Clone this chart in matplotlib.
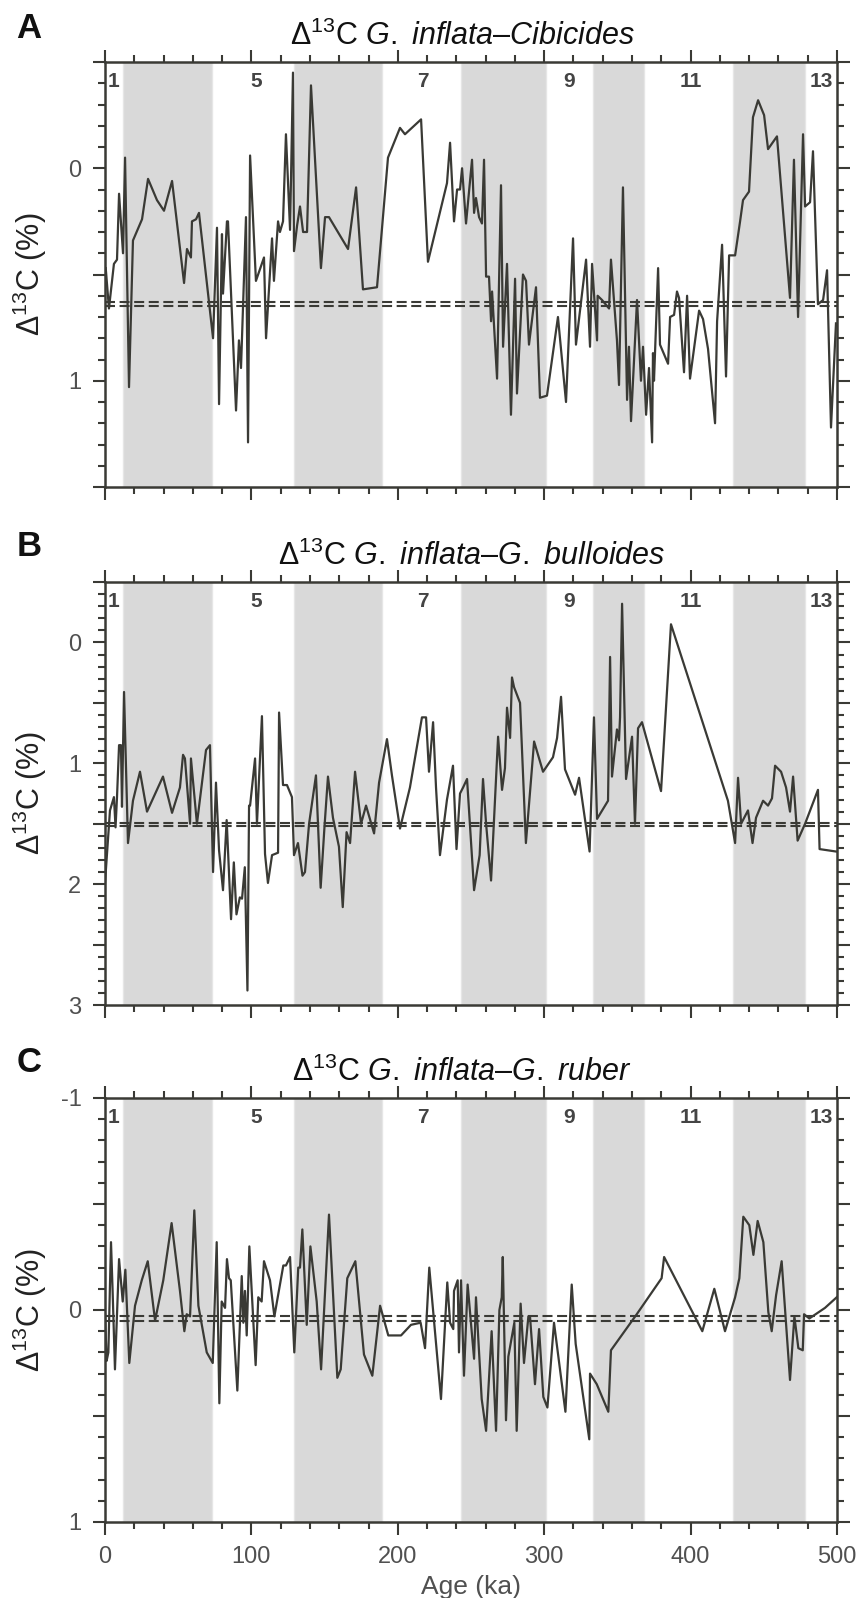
import matplotlib
matplotlib.use('Agg')
import matplotlib.pyplot as plt
from matplotlib.ticker import MultipleLocator, FuncFormatter

plt.rcParams['font.family'] = ['Liberation Sans', 'DejaVu Sans']
plt.rcParams['mathtext.fontset'] = 'custom'
plt.rcParams['mathtext.rm'] = 'Liberation Sans'
plt.rcParams['mathtext.it'] = 'Liberation Sans:italic'
plt.rcParams['mathtext.bf'] = 'Liberation Sans:bold'
plt.rcParams['axes.unicode_minus'] = False

# --- data (age in ka, Delta13C in per mil) ---
age_a = [0.5, 2.7, 6.1, 8.2, 9.6, 12.3, 13.7, 16.4, 19.1, 25.3,
         29.4, 35.5, 40.3, 45.8, 54.0, 56.0, 58.7, 59.4, 62.2, 64.2,
         73.8, 76.5, 77.9, 79.9, 80.6, 83.3, 84.0, 89.5, 91.5, 92.9,
         96.3, 97.7, 99.1, 103.1, 108.6, 110.0, 114.1, 115.4, 118.2, 119.5,
         121.6, 123.6, 126.4, 128.4, 129.1, 131.2, 133.2, 135.3, 138.0, 140.7,
         147.5, 150.3, 153.0, 166.0, 171.5, 176.2, 185.8, 193.3, 201.5, 204.9,
         215.9, 220.6, 233.6, 235.7, 238.4, 240.5, 242.5, 243.9, 246.6, 250.7,
         252.1, 253.4, 255.5, 257.5, 258.9, 260.3, 262.3, 263.7, 264.4, 267.8,
         270.5, 271.9, 274.6, 277.3, 280.1, 281.4, 285.5, 287.6, 289.6, 294.4,
         297.1, 301.9, 309.4, 314.9, 319.7, 321.7, 328.6, 331.3, 332.7, 336.1,
         336.5, 339.5, 344.3, 345.6, 349.7, 351.1, 353.8, 356.6, 357.9, 359.3,
         363.4, 366.1, 367.5, 369.6, 371.6, 373.7, 374.3, 375.0, 377.8, 379.1,
         384.6, 386.0, 388.7, 390.7, 392.1, 395.5, 397.6, 399.6, 405.8, 408.5,
         411.9, 416.7, 418.1, 421.5, 424.2, 426.3, 430.4, 433.8, 435.8, 439.9,
         442.6, 446.1, 450.2, 452.9, 459.0, 467.9, 470.6, 473.4, 476.8, 478.2,
         481.6, 483.6, 487.0, 490.5, 493.2, 495.9, 499.3]
d13c_a = [0.47, 0.66, 0.45, 0.43, 0.12, 0.40, -0.05, 1.03, 0.34, 0.24,
          0.05, 0.15, 0.20, 0.06, 0.54, 0.38, 0.42, 0.25, 0.24, 0.21,
          0.80, 0.28, 1.11, 0.31, 0.59, 0.25, 0.25, 1.14, 0.81, 0.94,
          0.23, 1.29, -0.06, 0.53, 0.42, 0.80, 0.33, 0.53, 0.25, 0.30,
          0.25, -0.16, 0.29, -0.45, 0.39, 0.27, 0.18, 0.30, 0.30, -0.39,
          0.47, 0.23, 0.23, 0.38, 0.09, 0.57, 0.56, -0.05, -0.19, -0.16,
          -0.23, 0.44, 0.07, -0.12, 0.25, 0.10, 0.10, 0.00, 0.26, -0.04,
          0.21, 0.14, 0.23, 0.26, -0.04, 0.51, 0.51, 0.72, 0.58, 0.99,
          0.08, 0.84, 0.45, 1.16, 0.52, 1.06, 0.50, 0.53, 0.83, 0.56,
          1.08, 1.07, 0.70, 1.10, 0.33, 0.83, 0.43, 0.84, 0.45, 0.81,
          0.60, 0.62, 0.66, 0.43, 0.81, 1.02, 0.09, 1.09, 0.84, 1.19,
          0.62, 1.00, 0.84, 1.16, 0.94, 1.29, 0.87, 1.00, 0.47, 0.83,
          0.92, 0.70, 0.69, 0.58, 0.61, 0.96, 0.60, 0.99, 0.67, 0.71,
          0.85, 1.20, 0.72, 0.36, 0.98, 0.41, 0.41, 0.25, 0.15, 0.11,
          -0.24, -0.32, -0.25, -0.09, -0.15, 0.61, -0.04, 0.70, -0.16, 0.18,
          0.16, -0.08, 0.64, 0.62, 0.48, 1.22, 0.73]

age_b = [0.0, 3.4, 6.1, 7.2, 8.2, 9.6, 10.9, 11.6, 13.0, 15.7,
         19.1, 23.9, 28.7, 39.6, 45.8, 51.2, 53.3, 54.6, 58.1, 58.7,
         62.8, 69.0, 71.7, 73.8, 75.8, 77.9, 80.6, 83.1, 86.1, 88.0,
         89.8, 92.1, 93.6, 95.5, 97.3, 98.4, 99.1, 102.5, 103.8, 107.2,
         109.3, 111.3, 114.1, 118.2, 118.9, 121.6, 124.3, 127.7, 129.1, 131.8,
         134.9, 136.6, 139.4, 144.1, 147.3, 149.9, 152.3, 155.7, 159.8, 162.4,
         165.0, 167.4, 170.8, 174.9, 178.3, 183.8, 187.2, 192.6, 196.0, 201.5,
         208.3, 216.5, 219.3, 221.3, 224.1, 226.1, 228.8, 233.6, 237.7, 240.1,
         242.5, 244.6, 247.3, 252.1, 255.9, 258.2, 260.3, 263.7, 268.5, 271.2,
         273.2, 274.6, 276.7, 278.0, 279.4, 283.5, 287.5, 293.1, 299.2, 306.0,
         308.8, 311.5, 314.2, 321.1, 323.8, 331.0, 334.0, 336.1, 343.6, 345.0,
         346.3, 349.7, 351.1, 351.8, 353.2, 355.9, 360.0, 362.0, 364.1, 366.8,
         379.8, 386.6, 425.5, 430.4, 432.4, 434.5, 439.2, 442.3, 444.7, 449.5,
         452.9, 455.6, 457.7, 461.8, 465.2, 467.9, 470.0, 473.1, 478.2, 487.0,
         488.1, 499.3]
d13c_b = [1.99, 1.39, 1.28, 1.53, 1.28, 0.85, 0.85, 1.36, 0.41, 1.66,
          1.31, 1.07, 1.40, 1.11, 1.41, 1.20, 0.93, 0.96, 1.50, 0.96,
          1.50, 0.89, 0.85, 1.90, 1.16, 1.72, 2.05, 1.47, 2.29, 1.82,
          2.25, 2.11, 2.12, 1.86, 2.88, 1.35, 1.35, 0.96, 1.50, 0.61,
          1.75, 1.99, 1.76, 1.74, 0.58, 1.18, 1.18, 1.28, 1.76, 1.66,
          1.93, 1.90, 1.50, 1.10, 2.03, 1.53, 1.11, 1.45, 1.69, 2.19,
          1.57, 1.66, 1.07, 1.50, 1.35, 1.58, 1.16, 0.80, 1.10, 1.54,
          1.20, 0.62, 0.62, 1.07, 0.66, 1.20, 1.76, 1.30, 1.02, 1.71,
          1.25, 1.20, 1.13, 2.05, 1.76, 1.13, 1.50, 1.97, 0.78, 1.22,
          1.04, 0.54, 0.79, 0.29, 0.37, 0.50, 1.66, 0.82, 1.07, 0.95,
          0.79, 0.45, 1.05, 1.26, 1.12, 1.73, 0.62, 1.46, 1.31, 0.12,
          1.11, 0.72, 0.81, 0.62, -0.32, 1.13, 0.78, 1.50, 0.71, 0.66,
          1.23, -0.15, 1.31, 1.66, 1.12, 1.50, 1.39, 1.66, 1.45, 1.31,
          1.35, 1.29, 1.02, 1.07, 1.20, 1.40, 1.11, 1.64, 1.50, 1.22,
          1.71, 1.73]

age_c = [0.0, 1.1, 2.3, 4.1, 5.2, 6.8, 9.6, 12.1, 13.9, 16.6,
         20.5, 25.1, 29.2, 34.2, 39.8, 45.5, 51.2, 54.2, 55.8, 58.1,
         61.0, 63.8, 69.5, 73.6, 76.3, 78.1, 79.7, 82.0, 83.3, 84.7,
         85.9, 90.4, 93.4, 94.5, 95.6, 96.8, 98.6, 102.9, 104.7, 107.0,
         108.6, 112.7, 115.7, 121.8, 123.6, 126.4, 129.3, 132.0, 133.2, 134.8,
         137.8, 140.3, 144.6, 147.6, 153.0, 158.7, 161.0, 165.5, 171.0, 176.9,
         182.6, 187.9, 193.5, 202.2, 209.0, 215.6, 218.6, 221.5, 229.5, 233.8,
         235.7, 237.9, 238.4, 240.9, 241.8, 243.2, 245.2, 247.7, 252.1, 253.4,
         257.3, 260.3, 264.1, 267.1, 269.4, 271.0, 271.7, 273.9, 275.5, 279.6,
         281.2, 283.9, 286.2, 289.2, 290.3, 293.7, 296.5, 299.4, 302.2, 306.7,
         314.5, 318.8, 321.5, 325.6, 330.8, 331.3, 335.9, 343.8, 345.6, 363.2,
         380.2, 381.9, 408.0, 416.2, 423.5, 430.4, 433.3, 436.0, 440.1, 442.9,
         445.8, 449.7, 453.1, 455.4, 458.4, 462.2, 467.9, 470.9, 473.6, 476.6,
         477.5, 481.1, 491.8, 499.8]
d13c_c = [0.02, 0.24, 0.20, -0.32, -0.09, 0.28, -0.24, -0.04, -0.19, 0.25,
          -0.02, -0.14, -0.23, 0.05, -0.14, -0.41, -0.09, 0.10, 0.02, 0.03,
          -0.47, -0.02, 0.20, 0.25, -0.32, 0.44, -0.04, -0.01, -0.24, -0.15,
          -0.14, 0.38, -0.16, 0.06, -0.09, 0.12, -0.30, 0.26, -0.06, -0.04,
          -0.23, -0.14, 0.03, -0.21, -0.21, -0.25, 0.20, -0.20, -0.20, -0.38,
          0.07, -0.30, -0.04, 0.28, -0.45, 0.32, 0.28, -0.15, -0.23, 0.21,
          0.31, -0.02, 0.12, 0.12, 0.07, 0.06, 0.18, -0.20, 0.42, -0.13,
          0.06, 0.09, -0.09, -0.14, 0.20, -0.14, 0.31, -0.12, 0.23, -0.06,
          0.42, 0.57, 0.10, 0.57, 0.00, -0.06, -0.25, 0.52, 0.22, 0.06,
          0.57, -0.03, 0.25, 0.03, 0.03, 0.35, 0.09, 0.41, 0.46, 0.06,
          0.48, -0.12, 0.16, 0.36, 0.61, 0.30, 0.35, 0.48, 0.19, 0.02,
          -0.15, -0.25, 0.10, -0.10, 0.10, -0.06, -0.15, -0.44, -0.40, -0.26,
          -0.42, -0.32, 0.01, 0.10, -0.07, -0.23, 0.33, 0.03, 0.18, 0.19,
          0.02, 0.04, -0.01, -0.06]

# mean levels (two dashed lines per panel)
mean_a = [0.63, 0.65]
mean_b = [1.49, 1.52]
mean_c = [0.03, 0.05]

# glacial stages (shaded) and MIS labels
glacial_start = [12, 129, 243, 333, 429]
glacial_end = [73, 189, 301, 368, 478]
mis_labels = ['1', '5', '7', '9', '11', '13']
mis_ages = [5.5, 103, 217, 317, 400, 489]

titles = [r'Δ$^{13}$C $\mathit{G.\ inflata}$–$\mathit{Cibicides}$',
          r'Δ$^{13}$C $\mathit{G.\ inflata}$–$\mathit{G.\ bulloides}$',
          r'Δ$^{13}$C $\mathit{G.\ inflata}$–$\mathit{G.\ ruber}$']
title_x = [0.488, 0.501, 0.487]
letters = ['A', 'B', 'C']

ink = '#3a3a35'
grey_txt = '#505050'
band = '#d9d9d9'

W, H = 862, 1598
fig = plt.figure(figsize=(W / 100, H / 100), dpi=100)

# panel boxes in pixels: top, bottom
boxes = [(62, 487), (582, 1005), (1098, 1522)]
ylims = [(1.5, -0.5), (3.0, -0.5), (1.0, -1.0)]
series = [(age_a, d13c_a, mean_a), (age_b, d13c_b, mean_b), (age_c, d13c_c, mean_c)]
letter_y = [28, 546, 1062]


def int_only(v, pos):
    if abs(v - round(v)) < 1e-6:
        return str(int(round(v)))
    return ''


for i in range(3):
    top, bot = boxes[i]
    ax = fig.add_axes([105 / W, 1 - bot / H, 732 / W, (bot - top) / H])
    ages, vals, means = series[i]

    for s, e in zip(glacial_start, glacial_end):
        ax.axvspan(s, e, facecolor=band, edgecolor='#e6e6e6', lw=1.0, zorder=0)

    for m in means:
        ax.axhline(m, color=ink, lw=1.5, ls=(0, (4.8, 2.2)), zorder=2)
    ax.plot(ages, vals, color=ink, lw=1.6, zorder=3)

    for lab, a in zip(mis_labels, mis_ages):
        ax.text(a, 0.953, lab, transform=ax.get_xaxis_transform(), ha='center',
                va='center', fontsize=15, fontweight='bold', color='#444444', zorder=4)

    ax.set_xlim(0, 500)
    ax.set_ylim(*ylims[i])
    ax.xaxis.set_major_locator(MultipleLocator(100))
    ax.xaxis.set_minor_locator(MultipleLocator(20))
    ax.yaxis.set_major_locator(MultipleLocator(0.5))
    ax.yaxis.set_minor_locator(MultipleLocator(0.1))
    ax.yaxis.set_major_formatter(FuncFormatter(int_only))

    for sp in ax.spines.values():
        sp.set_color(ink)
        sp.set_linewidth(1.8)
    ax.tick_params(which='both', direction='out', top=True, right=True,
                   color=ink, width=1.5, labelcolor=grey_txt, labelsize=17)
    ax.tick_params(which='major', length=9, pad=8)
    ax.tick_params(which='minor', length=5)
    if i < 2:
        ax.tick_params(labelbottom=False)
    else:
        ax.set_xlabel('Age (ka)', fontsize=19, color=grey_txt, labelpad=5)

    ax.set_ylabel(r'Δ$^{13}$C (%)', fontsize=22, color='#222222')
    ax.yaxis.set_label_coords(-0.076, 0.5)
    ax.set_title(titles[i], fontsize=22, pad=12, color='#111111', x=title_x[i])

    fig.text(29 / W, 1 - letter_y[i] / H, letters[i], fontsize=25, fontweight='bold',
             ha='center', va='center', color='#111111')

fig.savefig('out.png', dpi=100)
